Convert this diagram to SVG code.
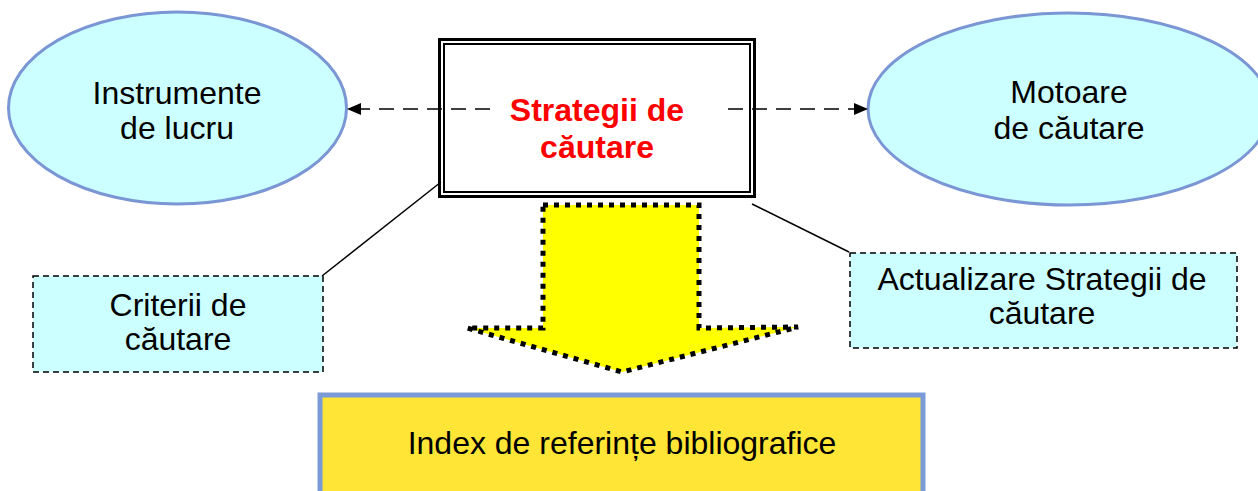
<svg xmlns="http://www.w3.org/2000/svg" width="1258" height="491" viewBox="0 0 1258 491">
<defs>
<marker id="ah" viewBox="0 0 14 12" refX="14" refY="6" markerWidth="14" markerHeight="12" markerUnits="userSpaceOnUse" orient="auto">
<path d="M0,0 L14,6 L0,12 Z" fill="#000"/>
</marker>
<style>
.t{font-family:"Liberation Sans",Arial,sans-serif;font-size:32px;fill:#000;text-anchor:middle}
.red{font-weight:bold;fill:#FF0000}
.ell{fill:#CCFFFF;stroke:#7B96D4;stroke-width:3}
.note{fill:#CCFFFF;stroke:#000;stroke-width:1.5;stroke-dasharray:6 4}
.conn{stroke:#000;stroke-width:1.5;stroke-dasharray:15 9;fill:none}
.lead{stroke:#000;stroke-width:1.5;fill:none}
</style>
</defs>
<rect width="1258" height="491" fill="#fff"/>

<g id="node-instrumente">
<ellipse class="ell" cx="177.5" cy="108" rx="169" ry="96"/>
<text class="t" x="177" y="104">Instrumente</text>
<text class="t" x="177" y="139">de lucru</text>
</g>

<g id="node-motoare">
<ellipse class="ell" cx="1069" cy="109" rx="201" ry="96"/>
<text class="t" x="1069" y="103">Motoare</text>
<text class="t" x="1069" y="139">de căutare</text>
</g>

<g id="node-arrow">
<polygon points="543,205 699,205 699,328 798,327 622,372 467,328 543,328" fill="#FFFF00" stroke="#000" stroke-width="5" stroke-dasharray="5 6"/>
</g>

<g id="node-strategii">
<rect x="439.5" y="39.5" width="315" height="157" fill="#fff" stroke="#000" stroke-width="3"/>
<rect x="444" y="44" width="306" height="148" fill="none" stroke="#000" stroke-width="2"/>
<text class="t red" x="597" y="121">Strategii de</text>
<text class="t red" x="597" y="158">căutare</text>
</g>

<g id="node-criterii">
<rect class="note" x="33" y="276" width="290" height="96"/>
<text class="t" x="178" y="316">Criterii de</text>
<text class="t" x="178" y="350">căutare</text>
</g>

<g id="node-actualizare">
<rect class="note" x="850" y="253" width="387" height="95"/>
<text class="t" x="1042" y="290">Actualizare Strategii de</text>
<text class="t" x="1042" y="324">căutare</text>
</g>

<g id="node-index">
<rect x="320" y="395" width="603" height="100" fill="#FFE535" stroke="#7B9BD8" stroke-width="5"/>
<text class="t" x="622" y="454">Index de referințe bibliografice</text>
</g>

<g id="connectors">
<line class="conn" x1="490" y1="109" x2="347" y2="109" marker-end="url(#ah)"/>
<line class="conn" x1="728" y1="109" x2="868" y2="109" marker-end="url(#ah)"/>
<line class="lead" x1="441" y1="182" x2="322" y2="276"/>
<line class="lead" x1="752" y1="204" x2="849" y2="252"/>
</g>
</svg>
